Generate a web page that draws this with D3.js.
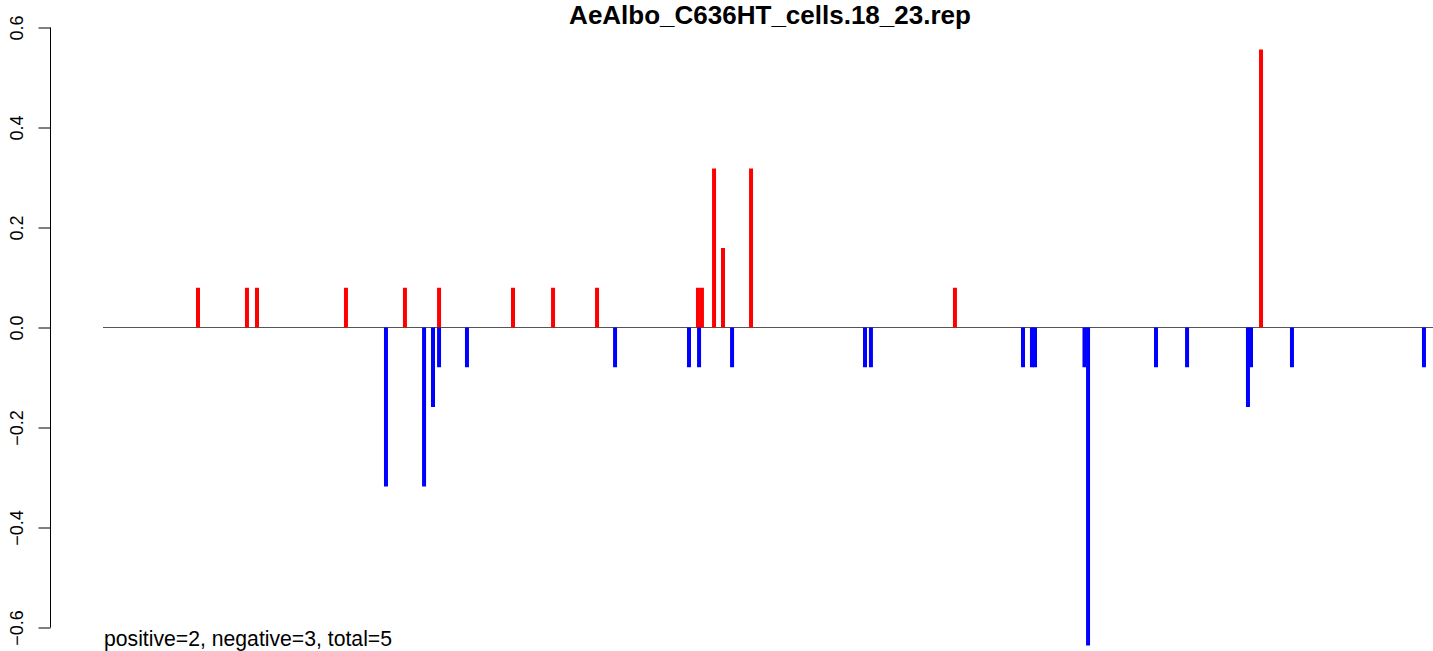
<!DOCTYPE html>
<html>
<head>
<meta charset="utf-8">
<script src="https://cdn.jsdelivr.net/npm/d3@7"></script>
<style>
  body { margin: 0; background: #fff; }
  svg { display: block; font-family: "Liberation Sans", Arial, Helvetica, sans-serif; }
</style>
</head>
<body>
<svg id="chart" width="1433" height="651"></svg>
<script>
// positions along the sequence and their scores
const posPositions = [69.1, 104.7, 112, 176.7, 219.6, 244.4, 298.2, 327.3, 359.3,
                      432.7, 435.6, 444.4, 450.9, 471.3, 619.6, 842.2];
const posValues    = [0.0795, 0.0795, 0.0795, 0.0795, 0.0795, 0.0795, 0.0795, 0.0795, 0.0795,
                      0.0795, 0.0795, 0.318, 0.159, 0.318, 0.0795, 0.556];

const negPositions = [205.8, 233.5, 240, 244.4, 264.7, 372.4, 426.2, 433.5, 457.5,
                      554.2, 558.5, 669.1, 675.6, 677.8, 713.8, 716.4, 765.8, 788.4,
                      832.7, 834.9, 864.7, 960.7];
const negValues    = [-0.318, -0.318, -0.159, -0.0795, -0.0795, -0.0795, -0.0795, -0.0795, -0.0795,
                      -0.0795, -0.0795, -0.0795, -0.0795, -0.0795, -0.0795, -0.636, -0.0795, -0.0795,
                      -0.159, -0.0795, -0.0795, -0.0795];

const yTicks = [-0.6, -0.4, -0.2, 0.0, 0.2, 0.4, 0.6];
const seqLength = 1000;
const title = "AeAlbo_C636HT_cells.18_23.rep";
const summary = "positive=2, negative=3, total=5";

const svg = d3.select("#chart");

const x = d3.scaleLinear().domain([0, seqLength]).range([103, 1478]);
const y = d3.scaleLinear().domain([-0.6, 0.6]).range([627.5, 27.5]);

// baseline
svg.append("line")
  .attr("x1", x(0)).attr("x2", x(seqLength))
  .attr("y1", y(0)).attr("y2", y(0))
  .attr("stroke", "#555")
  .attr("stroke-width", 1);

const pos = posPositions.map((p, i) => ({p, v: posValues[i]}));
const neg = negPositions.map((p, i) => ({p, v: negValues[i]}));

svg.append("g").selectAll("line")
  .data(pos)
  .join("line")
  .attr("x1", d => x(d.p)).attr("x2", d => x(d.p))
  .attr("y1", y(0)).attr("y2", d => y(d.v))
  .attr("stroke", "#ff0000")
  .attr("stroke-width", 4);

svg.append("g").selectAll("line")
  .data(neg)
  .join("line")
  .attr("x1", d => x(d.p)).attr("x2", d => x(d.p))
  .attr("y1", y(0)).attr("y2", d => y(d.v))
  .attr("stroke", "#0000ff")
  .attr("stroke-width", 4);

// y axis, R style
const yAxis = svg.append("g")
  .attr("transform", "translate(50.5,0)")
  .call(d3.axisLeft(y).tickValues(yTicks).tickSize(12).tickFormat(d3.format(".1f")));
yAxis.select(".domain").attr("d", `M0,${y(-0.6)}V${y(0.6)}`).attr("stroke", "#000");
yAxis.selectAll(".tick line").attr("stroke", "#000");
yAxis.selectAll(".tick text")
  .attr("x", null).attr("dy", null)
  .attr("transform", "translate(-28,0) rotate(-90)")
  .attr("text-anchor", "middle")
  .attr("font-size", 18)
  .attr("font-family", "Liberation Sans, Arial, sans-serif")
  .attr("fill", "#000")
  .text(d => d3.format(".1f")(d).replace("-", "\u2212"));

svg.append("text")
  .attr("x", 770).attr("y", 24)
  .attr("text-anchor", "middle")
  .attr("font-weight", "bold")
  .attr("font-size", 26)
  .text(title);

svg.append("text")
  .attr("x", 104).attr("y", 646)
  .attr("font-size", 21.2)
  .text(summary);
</script>
</body>
</html>
